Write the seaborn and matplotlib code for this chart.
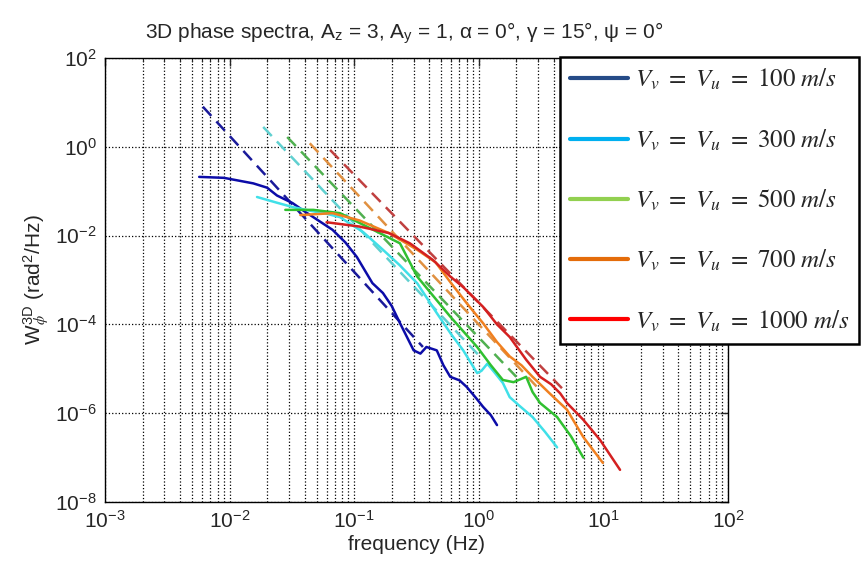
import numpy as np
import pandas as pd
import seaborn as sns
import matplotlib.pyplot as plt
from matplotlib.lines import Line2D
from matplotlib.ticker import FixedLocator, LogLocator, NullFormatter

# measured spectra (solid)
f_100 = [0.0057, 0.0090, 0.0155, 0.020, 0.024, 0.032, 0.040, 0.047, 0.067, 0.085, 0.105, 0.14, 0.17,
         0.20, 0.233, 0.30, 0.34, 0.38, 0.46, 0.52, 0.59, 0.70, 0.80, 0.95, 1.08, 1.25, 1.4]
W_100 = [0.21, 0.20, 0.15, 0.12, 0.08, 0.054, 0.035, 0.026, 0.0135, 0.007, 0.0033, 8.5e-4, 5.1e-4,
         2.6e-4, 1.07e-4, 2.6e-5, 2.2e-5, 3.1e-5, 2.6e-5, 1.2e-5, 6.6e-6, 5.5e-6, 3.9e-6, 2.2e-6,
         1.4e-6, 9e-7, 5.4e-7]
f_300 = [0.0166, 0.024, 0.032, 0.045, 0.060, 0.077, 0.118, 0.17, 0.23, 0.32, 0.46, 0.60, 0.75, 0.97,
         1.05, 1.17, 1.35, 1.56, 1.77, 2.1, 2.7, 3.4, 4.25]
W_300 = [0.074, 0.055, 0.044, 0.036, 0.031, 0.026, 0.012, 0.0048, 2.2e-3, 8.5e-4, 1.8e-4, 6e-5, 2.6e-5,
         8e-6, 9e-6, 1.3e-5, 8e-6, 4.8e-6, 2.3e-6, 1.5e-6, 8.2e-7, 3.8e-7, 1.7e-7]
f_500 = [0.028, 0.047, 0.077, 0.126, 0.233, 0.32, 0.59, 0.97, 1.25, 1.56, 1.9, 2.4, 2.7, 3.1, 4.25, 5.5, 6.9]
W_500 = [0.038, 0.038, 0.032, 0.016, 0.0067, 1.2e-3, 1.5e-4, 3.1e-5, 1.2e-5, 5.6e-6, 5.0e-6, 6.6e-6,
         3e-6, 1.7e-6, 8.2e-7, 3e-7, 1.0e-7]
f_700 = [0.037, 0.067, 0.11, 0.19, 0.32, 0.45, 0.59, 0.8, 1.08, 1.4, 1.77, 2.2, 2.7, 3.7, 5.1, 6.9, 9.9]
W_700 = [0.029, 0.032, 0.022, 0.0114, 0.0048, 2.5e-3, 9e-4, 3e-4, 1.07e-4, 4e-5, 1.9e-5, 1.2e-5,
         6.6e-6, 2.8e-6, 1.2e-6, 2.9e-7, 7.6e-8]
f_1000 = [0.06, 0.11, 0.19, 0.28, 0.43, 0.59, 0.75, 1.08, 1.4, 1.77, 2.4, 3.1, 3.8, 4.5, 5.1, 6.9, 9.4, 13.6]
W_1000 = [0.02, 0.016, 0.0114, 0.0067, 2.8e-3, 1.2e-3, 6.9e-4, 2.5e-4, 1e-4, 5.2e-5, 1.6e-5, 6.6e-6,
          4.5e-6, 2.8e-6, 1.7e-6, 7.1e-7, 2.5e-7, 5.3e-8]

# theoretical fits (dashed), end points
fit_f = {100: [0.0061, 0.356], 300: [0.0186, 1.08], 500: [0.029, 2.0], 700: [0.044, 3.1], 1000: [0.064, 5.1]}
fit_W = {100: [8, 3.1e-5], 300: [2.8, 1.6e-5], 500: [1.66, 6.6e-6], 700: [1.2, 3.3e-6], 1000: [0.85, 2.8e-6]}

speeds = [100, 300, 500, 700, 1000]
meas = {100: (f_100, W_100), 300: (f_300, W_300), 500: (f_500, W_500), 700: (f_700, W_700), 1000: (f_1000, W_1000)}
line_colors = {100: '#0c0ca8', 300: '#40e0e8', 500: '#30c030', 700: '#f08020', 1000: '#d42020'}
fit_colors = {100: '#1a1a9a', 300: '#60d0d0', 500: '#50b050', 700: '#e09040', 1000: '#c04040'}
legend_colors = ['#254b87', '#00b0f0', '#92d050', '#e46c0a', '#ff0000']

sns.set_style('white')
plt.rcParams['font.family'] = ['Liberation Sans', 'DejaVu Sans']
plt.rcParams['mathtext.fontset'] = 'stix'

fig = plt.figure(figsize=(8.65, 5.66), dpi=100)
ax = fig.add_axes([105 / 865, 1 - 502 / 566, 623 / 865, 444 / 566])

for v in speeds:
    df = pd.DataFrame({'f': fit_f[v], 'W': fit_W[v]})
    sns.lineplot(data=df, x='f', y='W', ax=ax, color=fit_colors[v], lw=1.8,
                 estimator=None, sort=False, dashes=False, linestyle=(0, (5, 3)))
for v in speeds:
    f, W = meas[v]
    df = pd.DataFrame({'f': f, 'W': W})
    sns.lineplot(data=df, x='f', y='W', ax=ax, color=line_colors[v], lw=1.8,
                 estimator=None, sort=False)

ax.set_xscale('log')
ax.set_yscale('log')
ax.set_xlim(1e-3, 1e2)
ax.set_ylim(1e-8, 1e2)

xt = [1e-3, 1e-2, 1e-1, 1e0, 1e1, 1e2]
yt = [1e-8, 1e-6, 1e-4, 1e-2, 1e0, 1e2]
ax.xaxis.set_major_locator(FixedLocator(xt))
ax.xaxis.set_minor_locator(LogLocator(base=10, subs=np.arange(2, 10), numticks=20))
ax.xaxis.set_minor_formatter(NullFormatter())
ax.yaxis.set_major_locator(FixedLocator(yt))
ax.yaxis.set_minor_locator(FixedLocator([]))
ax.set_xticklabels([r'10$^{\mathregular{%d}}$' % int(np.log10(t)) for t in xt])
ax.set_yticklabels([r'10$^{\mathregular{%d}}$' % int(np.log10(t)) for t in yt])
ax.tick_params(which='both', direction='in', top=True, right=True, labelsize=15, pad=6)
ax.tick_params(which='major', length=6, width=1)
ax.tick_params(which='minor', length=3, width=0.8)
ax.grid(True, which='major', axis='both', color='black', linestyle=':', linewidth=0.9)
ax.grid(True, which='minor', axis='x', color='black', linestyle=':', linewidth=0.9)
for s in ax.spines.values():
    s.set_color('black')
    s.set_linewidth(1)

ax.set_title(r'3D phase spectra, A$_{\mathregular{z}}$ = 3, A$_{\mathregular{y}}$ = 1, '
             r'$\mathregular{\alpha}$ = 0°, $\mathregular{\gamma}$ = 15°, $\mathregular{\psi}$ = 0°',
             fontsize=15, pad=14, x=0.48)
ax.set_xlabel('frequency (Hz)', fontsize=15, labelpad=2)
ax.set_ylabel(r'W$^{\mathregular{3D}}_{\phi}$ (rad$^{\mathregular{2}}$/Hz)', fontsize=15, labelpad=2)

handles = [Line2D([], [], color=c, lw=3) for c in legend_colors]
labels = [r'$V_v\ =\ V_u\ =\ %d\ m/s$' % v for v in speeds]
leg = fig.legend(handles, labels, loc='upper left', bbox_to_anchor=(560 / 865, 1 - 57 / 566),
                 fontsize=18, frameon=True, fancybox=False, borderaxespad=0, handlelength=2.3,
                 labelspacing=1.4, borderpad=0.4, handletextpad=0.3)
leg.get_frame().set_edgecolor('black')
leg.get_frame().set_linewidth(1.8)
leg.get_frame().set_alpha(1)

fig.savefig('out.png', dpi=100)
